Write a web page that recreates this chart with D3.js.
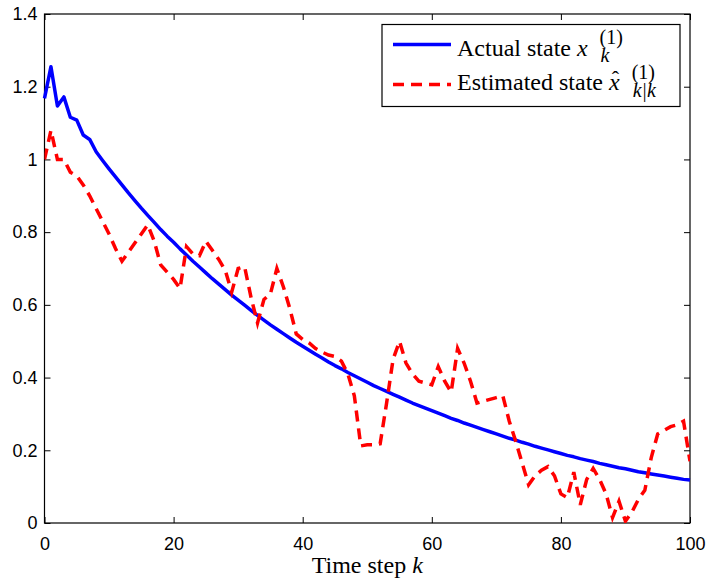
<!DOCTYPE html>
<html>
<head>
<meta charset="utf-8">
<script src="https://cdn.jsdelivr.net/npm/d3@7"></script>
<style>
  body { margin: 0; background: #fff; }
  svg { display: block; }
  .tick text { font-family: "Liberation Sans", Arial, sans-serif; font-size: 18px; fill: #000; }
  .serif { font-family: "Liberation Serif", "Times New Roman", serif; fill: #000; }
</style>
</head>
<body>
<svg id="chart" width="715" height="581"></svg>
<script>
// time steps 0..100
const steps = d3.range(0, 101);

// actual state x_k^(1)
const actualState = [
  1.168, 1.255, 1.147, 1.172, 1.116, 1.108, 1.067, 1.055, 1.021, 0.997,
  0.974, 0.952, 0.930, 0.908, 0.887, 0.866, 0.846, 0.827, 0.807, 0.789,
  0.772, 0.754, 0.737, 0.720, 0.704, 0.688, 0.672, 0.657, 0.642, 0.627,
  0.613, 0.599, 0.585, 0.571, 0.558, 0.545, 0.533, 0.521, 0.509, 0.497,
  0.486, 0.475, 0.464, 0.454, 0.443, 0.433, 0.424, 0.414, 0.405, 0.396,
  0.387, 0.378, 0.370, 0.362, 0.354, 0.346, 0.338, 0.330, 0.323, 0.316,
  0.309, 0.302, 0.295, 0.288, 0.282, 0.275, 0.269, 0.263, 0.257, 0.251,
  0.245, 0.239, 0.233, 0.228, 0.222, 0.217, 0.211, 0.206, 0.201, 0.196,
  0.191, 0.186, 0.182, 0.177, 0.173, 0.169, 0.164, 0.160, 0.156, 0.152,
  0.149, 0.145, 0.141, 0.138, 0.135, 0.132, 0.129, 0.126, 0.123, 0.120,
  0.118
];

// estimated state x^_{k|k}^(1)
const estimatedState = [
  1.000, 1.080, 1.000, 1.000, 0.965, 0.955, 0.930, 0.900, 0.865, 0.830,
  0.795, 0.755, 0.720, 0.745, 0.770, 0.795, 0.820, 0.775, 0.710, 0.690,
  0.670, 0.645, 0.760, 0.740, 0.735, 0.775, 0.750, 0.725, 0.695, 0.635,
  0.700, 0.705, 0.620, 0.550, 0.615, 0.630, 0.700, 0.650, 0.590, 0.520,
  0.505, 0.495, 0.480, 0.470, 0.462, 0.458, 0.445, 0.410, 0.350, 0.212,
  0.215, 0.215, 0.218, 0.330, 0.450, 0.500, 0.440, 0.410, 0.390, 0.385,
  0.380, 0.430, 0.390, 0.360, 0.480, 0.440, 0.390, 0.330, 0.335, 0.340,
  0.345, 0.350, 0.280, 0.225, 0.165, 0.105, 0.130, 0.145, 0.155, 0.130,
  0.080, 0.070, 0.140, 0.050, 0.120, 0.150, 0.120, 0.080, 0.015, 0.060,
  0.005, 0.030, 0.065, 0.090, 0.180, 0.245, 0.255, 0.265, 0.270, 0.280,
  0.170
];

const xTicks = [0, 20, 40, 60, 80, 100];
const yTicks = [0, 0.2, 0.4, 0.6, 0.8, 1, 1.2, 1.4];

const svg = d3.select("#chart");
const margin = { left: 44.5, top: 14, right: 25, bottom: 58 };
const width = +svg.attr("width"), height = +svg.attr("height");

const x = d3.scaleLinear().domain([0, 100]).range([margin.left, width - margin.right]);
const y = d3.scaleLinear().domain([0, 1.4]).range([height - margin.bottom, margin.top]);

const fmt = d => String(d);

// axes with inward ticks on all four sides
svg.append("g")
  .attr("transform", `translate(0,${y(0)})`)
  .call(d3.axisBottom(x).tickValues(xTicks).tickSize(-6).tickPadding(14).tickFormat(fmt))
  .call(g => g.select(".domain").remove());
svg.append("g")
  .attr("transform", `translate(0,${y(1.4)})`)
  .call(d3.axisTop(x).tickValues(xTicks).tickSize(-6).tickFormat(""))
  .call(g => g.select(".domain").remove());
svg.append("g")
  .attr("transform", `translate(${x(0)},0)`)
  .call(d3.axisLeft(y).tickValues(yTicks).tickSize(-6).tickPadding(7).tickFormat(fmt))
  .call(g => g.select(".domain").remove());
svg.append("g")
  .attr("transform", `translate(${x(100)},0)`)
  .call(d3.axisRight(y).tickValues(yTicks).tickSize(-6).tickFormat(""))
  .call(g => g.select(".domain").remove());

svg.selectAll(".tick line").attr("stroke", "#000");

// frame
svg.append("rect")
  .attr("x", x(0)).attr("y", y(1.4))
  .attr("width", x(100) - x(0)).attr("height", y(0) - y(1.4))
  .attr("fill", "none").attr("stroke", "#000").attr("stroke-width", 1.2);

svg.append("clipPath").attr("id", "plotclip")
  .append("rect")
  .attr("x", x(0)).attr("y", y(1.4) - 2)
  .attr("width", x(100) - x(0)).attr("height", y(0) - y(1.4) + 2);

const line = d3.line().x((d, i) => x(steps[i])).y(d => y(d));

svg.append("path")
  .datum(actualState)
  .attr("d", line)
  .attr("fill", "none")
  .attr("stroke", "#0000ff")
  .attr("stroke-width", 3.5)
  .attr("stroke-linejoin", "round");

svg.append("path")
  .datum(estimatedState)
  .attr("d", line)
  .attr("clip-path", "url(#plotclip)")
  .attr("fill", "none")
  .attr("stroke", "#ff0000")
  .attr("stroke-width", 3.5)
  .attr("stroke-dasharray", "11,7");

// x label
const xl = svg.append("text")
  .attr("class", "serif")
  .attr("x", (x(0) + x(100)) / 2)
  .attr("y", 573)
  .attr("text-anchor", "middle")
  .style("font-size", "24px");
xl.append("tspan").text("Time step ");
xl.append("tspan").style("font-style", "italic").text("k");

// legend
const lg = svg.append("g");
lg.append("rect")
  .attr("x", 382).attr("y", 24.5)
  .attr("width", 298).attr("height", 82)
  .attr("fill", "#fff").attr("stroke", "#000").attr("stroke-width", 1.2);

lg.append("line")
  .attr("x1", 393).attr("x2", 451).attr("y1", 44.5).attr("y2", 44.5)
  .attr("stroke", "#0000ff").attr("stroke-width", 3.5);
lg.append("line")
  .attr("x1", 393).attr("x2", 451).attr("y1", 84.5).attr("y2", 84.5)
  .attr("stroke", "#ff0000").attr("stroke-width", 3.5)
  .attr("stroke-dasharray", "11,7");

function legendEntry(label, sub, hat, baseline, supDy, subDy) {
  const t = lg.append("text").attr("class", "serif")
    .attr("x", 457).attr("y", baseline).style("font-size", "24px");
  t.append("tspan").text(label);
  t.append("tspan").style("font-style", "italic").text("x");
  const n = label.length;
  const x0 = 457 + t.node().getSubStringLength(0, n);
  const x1 = 457 + t.node().getSubStringLength(0, n + 1);
  const scriptX = x1 + 12;
  lg.append("text").attr("class", "serif")
    .attr("x", scriptX).attr("y", baseline + supDy)
    .style("font-size", "20px").text("(1)");
  lg.append("text").attr("class", "serif")
    .attr("x", scriptX + 1).attr("y", baseline + subDy)
    .style("font-size", "20px").style("font-style", "italic").text(sub);
  if (hat) {
    lg.append("text").attr("class", "serif")
      .attr("x", (x0 + x1) / 2 + 1).attr("y", baseline - 4)
      .attr("text-anchor", "middle")
      .style("font-size", "22px")
      .text("\u02C6");
  }
}

legendEntry("Actual state ", "k", false, 55.5, -11.5, 6.5);
legendEntry("Estimated state ", "k|k", true, 90, -11, 7);
</script>
</body>
</html>
